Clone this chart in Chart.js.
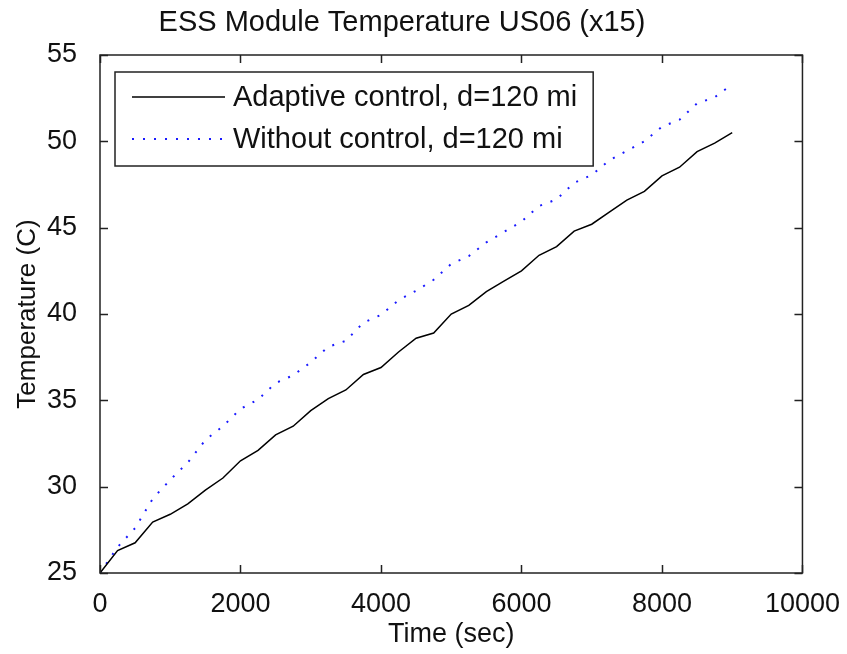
<!DOCTYPE html>
<html>
<head>
<meta charset="utf-8">
<script src="https://cdn.jsdelivr.net/npm/chart.js@4.4.0/dist/chart.umd.min.js"></script>
<style>
  html, body { margin: 0; padding: 0; background: #fff; }
  #wrap { width: 847px; height: 654px; }
</style>
</head>
<body>
<div id="wrap"><canvas id="chart" width="847" height="654"></canvas></div>
<script>
// Datos (tiempo en s, temperatura en °C)
const timeSec = [0, 250, 500, 750, 1000, 1250, 1500, 1750, 2000, 2250, 2500, 2750, 3000,
  3250, 3500, 3750, 4000, 4250, 4500, 4750, 5000, 5250, 5500, 5750, 6000,
  6250, 6500, 6750, 7000, 7250, 7500, 7750, 8000, 8250, 8500, 8750, 9000];

const adaptiveTemp = [25.0, 26.3, 26.75, 27.95, 28.4, 29.0, 29.8, 30.5, 31.5, 32.1, 33.0, 33.5, 34.4,
  35.1, 35.6, 36.5, 36.9, 37.8, 38.6, 38.9, 40.0, 40.5, 41.3, 41.9, 42.5,
  43.4, 43.9, 44.8, 45.2, 45.9, 46.6, 47.1, 48.0, 48.5, 49.4, 49.9, 50.5];

const withoutTemp = [25.0, 26.5, 27.6, 29.3, 30.4, 31.4, 32.7, 33.5, 34.5, 35.05, 36.0, 36.45, 37.2,
  38.1, 38.45, 39.5, 39.95, 40.8, 41.35, 41.98, 42.9, 43.35, 44.15, 44.75, 45.35,
  46.25, 46.64, 47.6, 48.05, 48.9, 49.45, 50.0, 50.85, 51.25, 52.2, 52.55, 53.3];

const seriesLabels = ['Adaptive control, d=120 mi', 'Without control, d=120 mi'];
const xTicks = [0, 2000, 4000, 6000, 8000, 10000];
const yTicks = [25, 30, 35, 40, 45, 50, 55];

const FONT = "'Liberation Sans', Arial, Helvetica, sans-serif";

function toPoints(ys) {
  return timeSec.map((t, i) => ({ x: t, y: ys[i] }));
}

// Marco con marcas hacia adentro (estilo MATLAB)
const boxTicks = {
  id: 'boxTicks',
  afterDraw(chart) {
    const { ctx, chartArea: a, scales } = chart;
    const len = 8;
    ctx.save();
    ctx.strokeStyle = '#222';
    ctx.lineWidth = 1.5;
    ctx.beginPath();
    xTicks.forEach(v => {
      const x = Math.round(scales.x.getPixelForValue(v)) + 0.5;
      ctx.moveTo(x, a.bottom); ctx.lineTo(x, a.bottom - len);
      ctx.moveTo(x, a.top); ctx.lineTo(x, a.top + len);
    });
    yTicks.forEach(v => {
      const y = Math.round(scales.y.getPixelForValue(v)) + 0.5;
      ctx.moveTo(a.left, y); ctx.lineTo(a.left + len, y);
      ctx.moveTo(a.right, y); ctx.lineTo(a.right - len, y);
    });
    ctx.stroke();
    ctx.strokeRect(a.left, a.top, a.right - a.left, a.bottom - a.top);
    ctx.restore();
  }
};

// Leyenda dentro del área, con recuadro
const boxLegend = {
  id: 'boxLegend',
  afterDraw(chart) {
    const { ctx, chartArea: a } = chart;
    const left = a.left + 15, top = a.top + 17;
    ctx.save();
    ctx.font = '29px ' + FONT;
    let maxW = 0;
    chart.data.datasets.forEach(ds => { maxW = Math.max(maxW, ctx.measureText(ds.label).width); });
    const textX = left + 118;
    const right = textX + maxW + 16;
    const bottom = top + 94;
    ctx.fillStyle = '#fff';
    ctx.fillRect(left, top, right - left, bottom - top);
    ctx.strokeStyle = '#222';
    ctx.lineWidth = 1.5;
    ctx.strokeRect(left, top, right - left, bottom - top);

    chart.data.datasets.forEach((ds, i) => {
      const y = top + 25 + i * 42;
      ctx.beginPath();
      ctx.strokeStyle = ds.borderColor;
      ctx.lineWidth = ds.borderWidth;
      ctx.lineCap = ds.borderCapStyle || 'butt';
      ctx.setLineDash(ds.borderDash || []);
      ctx.moveTo(left + 17, y);
      ctx.lineTo(left + 110, y);
      ctx.stroke();
      ctx.setLineDash([]);
      ctx.fillStyle = '#111';
      ctx.textBaseline = 'middle';
      ctx.fillText(ds.label, textX, y + 1);
    });
    ctx.restore();
  }
};

new Chart(document.getElementById('chart'), {
  type: 'line',
  data: {
    datasets: [
      {
        label: seriesLabels[0],
        data: toPoints(adaptiveTemp),
        borderColor: '#000',
        borderWidth: 1.5,
        pointRadius: 0,
        tension: 0,
        fill: false
      },
      {
        label: seriesLabels[1],
        data: toPoints(withoutTemp),
        borderColor: '#1a1aff',
        borderWidth: 2,
        borderDash: [2, 9],
        pointRadius: 0,
        tension: 0,
        fill: false
      }
    ]
  },
  options: {
    responsive: false,
    animation: false,
    layout: { padding: { left: 0, right: 43, top: 0, bottom: 0 } },
    plugins: {
      legend: { display: false },
      tooltip: { enabled: false },
      title: {
        display: true,
        text: 'ESS Module Temperature US06 (x15)',
        color: '#111',
        font: { family: FONT, size: 29, weight: 'normal' },
        padding: { top: 5.6, bottom: 14.6 }
      }
    },
    scales: {
      x: {
        type: 'linear',
        min: 0,
        max: 10000,
        grid: { display: false },
        border: { display: false },
        afterFit(scale) { scale.height = 81; },
        afterBuildTicks(scale) { scale.ticks = xTicks.map(v => ({ value: v })); },
        ticks: {
          color: '#111',
          padding: 7,
          maxRotation: 0,
          autoSkip: false,
          font: { family: FONT, size: 27 },
          callback: v => String(v)
        },
        title: {
          display: true,
          text: 'Time (sec)',
          color: '#111',
          font: { family: FONT, size: 27 },
          padding: { top: 0, bottom: 3 }
        }
      },
      y: {
        min: 25,
        max: 55,
        grid: { display: false },
        border: { display: false },
        afterFit(scale) { scale.width = 100; },
        afterBuildTicks(scale) { scale.ticks = yTicks.map(v => ({ value: v })); },
        ticks: {
          color: '#111',
          padding: 15,
          autoSkip: false,
          font: { family: FONT, size: 27 },
          callback: v => String(v)
        },
        title: {
          display: true,
          text: 'Temperature (C)',
          color: '#111',
          font: { family: FONT, size: 26 },
          padding: { top: 12, bottom: 0 }
        }
      }
    }
  },
  plugins: [boxTicks, boxLegend]
});
</script>
</body>
</html>
